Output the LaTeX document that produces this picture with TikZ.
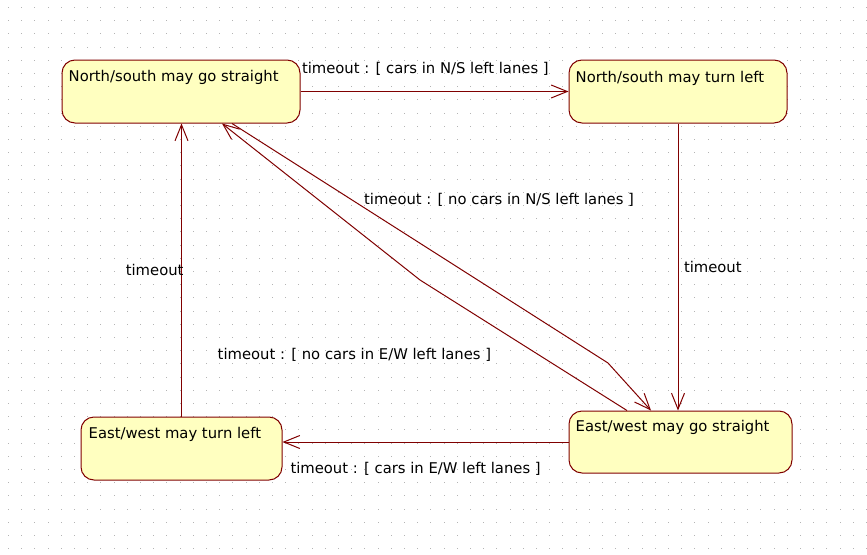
\documentclass[tikz,border=0pt]{standalone}
\usepackage{fontspec}
\setmainfont{DejaVu Sans}
\usetikzlibrary{arrows.meta,positioning}
\definecolor{umlred}{HTML}{800000}
\definecolor{umlfill}{HTML}{FFFFC0}
\definecolor{umldot}{HTML}{B4B4B4}
\tikzstyle{state}=[rectangle, rounded corners=13pt, draw=umlred, fill=umlfill, line width=1pt, inner sep=0pt]
\tikzstyle{statetext}=[anchor=north west, inner sep=0pt, font=\fontsize{14.8}{17}\selectfont]
\tikzstyle{trans}=[draw=umlred, line width=1pt, -{Straight Barb[length=16pt,width=13pt]}]
\tikzstyle{lbl}=[inner sep=0pt, font=\fontsize{14.8}{17}\selectfont]

\begin{document}
\begin{tikzpicture}[x=1pt, y=-1pt]

\useasboundingbox (0,0) rectangle (867,554);
\fill[white] (0,0) rectangle (867,554);
\foreach \i in {0,...,65}
  \foreach \j in {0,...,41}
    \fill[umldot] (8+13.2*\i, 7+13.2*\j) rectangle ++(1,1);

\node[state, minimum width=238pt, minimum height=63pt] (nsStraight) at (181,91.5) {};
\node[state, minimum width=218pt, minimum height=63pt] (nsLeft) at (678,91.5) {};
\node[state, minimum width=223pt, minimum height=62pt] (ewStraight) at (680.5,442) {};
\node[state, minimum width=201pt, minimum height=63pt] (ewLeft) at (181.5,448.5) {};

\node[statetext] (nsStraightTxt) at ([shift={(7,11)}]nsStraight.north west) {North/south may go straight};
\node[statetext] (nsLeftTxt) at ([shift={(7,11.5)}]nsLeft.north west) {North/south may turn left};
\node[statetext] (ewStraightTxt) at ([shift={(7,9.5)}]ewStraight.north west) {East/west may go straight};
\node[statetext] (ewLeftTxt) at ([shift={(8,10.5)}]ewLeft.north west) {East/west may turn left};

\coordinate (bendNS) at (608,363);
\coordinate (bendEW) at (420,280);

\draw[trans] (nsStraight.east) -- node[lbl, pos=0, anchor=west, xshift=1pt, yshift=22.5pt] (lblCarsNS) {timeout : [ cars in N/S left lanes ]} (nsLeft.west);
\draw[trans] (nsLeft.south) -- node[lbl, right=5.5pt] (lblTimeoutR) {timeout} (nsLeft.south |- ewStraight.north);
\draw[trans] (ewStraight.west) -- node[lbl, pos=1, anchor=west, xshift=7.5pt, yshift=-27pt] (lblCarsEW) {timeout : [ cars in E/W left lanes ]} (ewLeft.east |- ewStraight.west);
\draw[trans] (ewLeft.north) -- node[lbl, midway, anchor=east, xshift=2.5pt] (lblTimeoutL) {timeout} (ewLeft.north |- nsStraight.south);
\draw[trans] ([xshift=51pt]nsStraight.south) -- node[lbl, pos=0.35, anchor=west, yshift=7pt] (lblNoNS) {timeout : [ no cars in N/S left lanes ]} (bendNS) -- ([xshift=-29.5pt]ewStraight.north);
\draw[trans] ([xshift=-53.5pt]ewStraight.north) -- node[lbl, pos=0.427, anchor=east, xshift=-47pt] (lblNoEW) {timeout : [ no cars in E/W left lanes ]} (bendEW) -- ([xshift=41pt]nsStraight.south);

\end{tikzpicture}
\end{document}
